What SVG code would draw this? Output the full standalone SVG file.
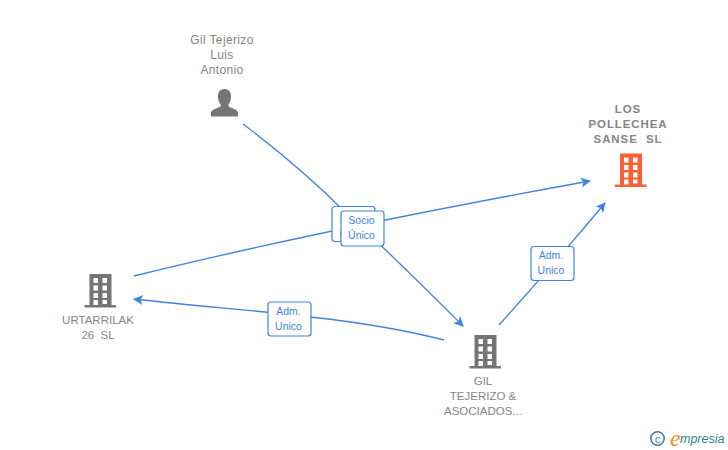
<svg xmlns="http://www.w3.org/2000/svg" xmlns:xlink="http://www.w3.org/1999/xlink" width="728" height="450" viewBox="0 0 728 450">
<style>
text{font-family:"Liberation Sans",Arial,sans-serif}
.n{font-size:12px;fill:#858585;text-anchor:middle;letter-spacing:.35px}
.b{font-size:11.500px;fill:#858585;text-anchor:middle}
.o{font-size:11.500px;fill:#858585;text-anchor:middle;font-weight:bold;letter-spacing:.9px}
.c{fill:none;stroke:#3f83de;stroke-width:1.300}
.l{fill:#fff;stroke:#3f83de;stroke-width:1.200}
.t{font-size:10.500px;fill:#3f83de;text-anchor:middle}
</style>
<defs>
<marker id="a" markerUnits="userSpaceOnUse" markerWidth="12" markerHeight="12" refX="9" refY="5" orient="auto"><path d="M0 0L10 5L0 10L2.500 5Z" fill="#3f83de"/></marker>
<path id="bld" fill-rule="evenodd" d="M5 0H27V31H31.500V33.500H0V31H5ZM9 4V9H13.500V4ZM18 4V9H22.500V4ZM9 11.500V16.500H13.500V11.500ZM18 11.500V16.500H22.500V11.500ZM9 19V24H13.500V19ZM18 19V24H22.500V19ZM9 26V31H13.500V26ZM18 26V30H22.500V26Z"/>
</defs>
<g id="connectors">
<path class="c" marker-end="url(#a)" d="M243 124C280 152 315 182 345 212C385 248 425 288 463 326"/>
<path class="c" marker-end="url(#a)" d="M134 276C280 240 440 208 590 181"/>
<path class="c" marker-end="url(#a)" d="M444 340C350 316 250 312 134 299"/>
<path class="c" marker-end="url(#a)" d="M499 325C535 285 570 245 605 203"/>
</g>
<g id="node-person">
<text class="n" x="222" y="44">Gil Tejerizo</text><text class="n" x="222" y="59">Luis</text><text class="n" x="222" y="74">Antonio</text>
<path fill="#757575" d="M224.500 89C219.500 89 217.500 93 218 98C218.300 101 219.500 103 220.500 104.500V106.500C216 109 211.500 109.500 211 112.500V116.500H238V112.500C237.500 109.500 233 109 228.500 106.500V104.500C229.500 103 230.700 101 231 98C231.500 93 229.500 89 224.500 89Z"/>
</g>
<g id="node-los">
<text class="o" x="628" y="113">LOS</text><text class="o" x="628" y="143" xml:space="preserve">SANSE  SL</text><text class="o" x="628" y="128">POLLECHEA</text>
<use xlink:href="#bld" x="615" y="153.500" fill="#ff5f33"/>
</g>
<g id="node-urtarrilak">
<text class="b" x="98" y="324">URTARRILAK</text><text class="b" x="98" y="339" xml:space="preserve">26  SL</text>
<use xlink:href="#bld" x="84.500" y="274" fill="#757575"/>
</g>
<g id="node-gil">
<text class="b" x="483" y="385">GIL</text><text class="b" x="483" y="400">TEJERIZO &amp;</text><text class="b" x="483" y="415">ASOCIADOS...</text>
<use xlink:href="#bld" x="469.500" y="335" fill="#757575"/>
</g>
<g id="label-socio-1"><rect class="l" x="332" y="206.500" width="43" height="35" rx="3"/><text class="t" x="353" y="224">Socio</text><text class="t" x="353" y="239">Único</text></g>
<g id="label-socio-2"><rect class="l" x="341" y="211" width="43" height="35" rx="3"/><text class="t" x="361.500" y="224">Socio</text><text class="t" x="361.500" y="239">Único</text></g>
<g id="label-adm-1"><rect class="l" x="268" y="302" width="43" height="34" rx="3"/><text class="t" x="288.500" y="315">Adm.</text><text class="t" x="288.500" y="330">Unico</text></g>
<g id="label-adm-2"><rect class="l" x="531" y="246.500" width="43" height="34" rx="3"/><text class="t" x="551" y="259">Adm.</text><text class="t" x="551" y="274">Unico</text></g>
<g id="logo">
<circle cx="657.500" cy="438.500" r="6.700" fill="none" stroke="#3f7f95" stroke-width="1.600"/>
<text x="657.500" y="442.500" font-size="11.500" fill="#3f7f95" text-anchor="middle">c</text>
<text x="670" y="446" style="font-family:'Liberation Serif',serif" font-style="italic" font-size="24" fill="#f08a1d">e</text>
<text x="680" y="443" font-style="italic" font-size="12.500" fill="#2f7f8f">mpresia</text>
</g>
</svg>
